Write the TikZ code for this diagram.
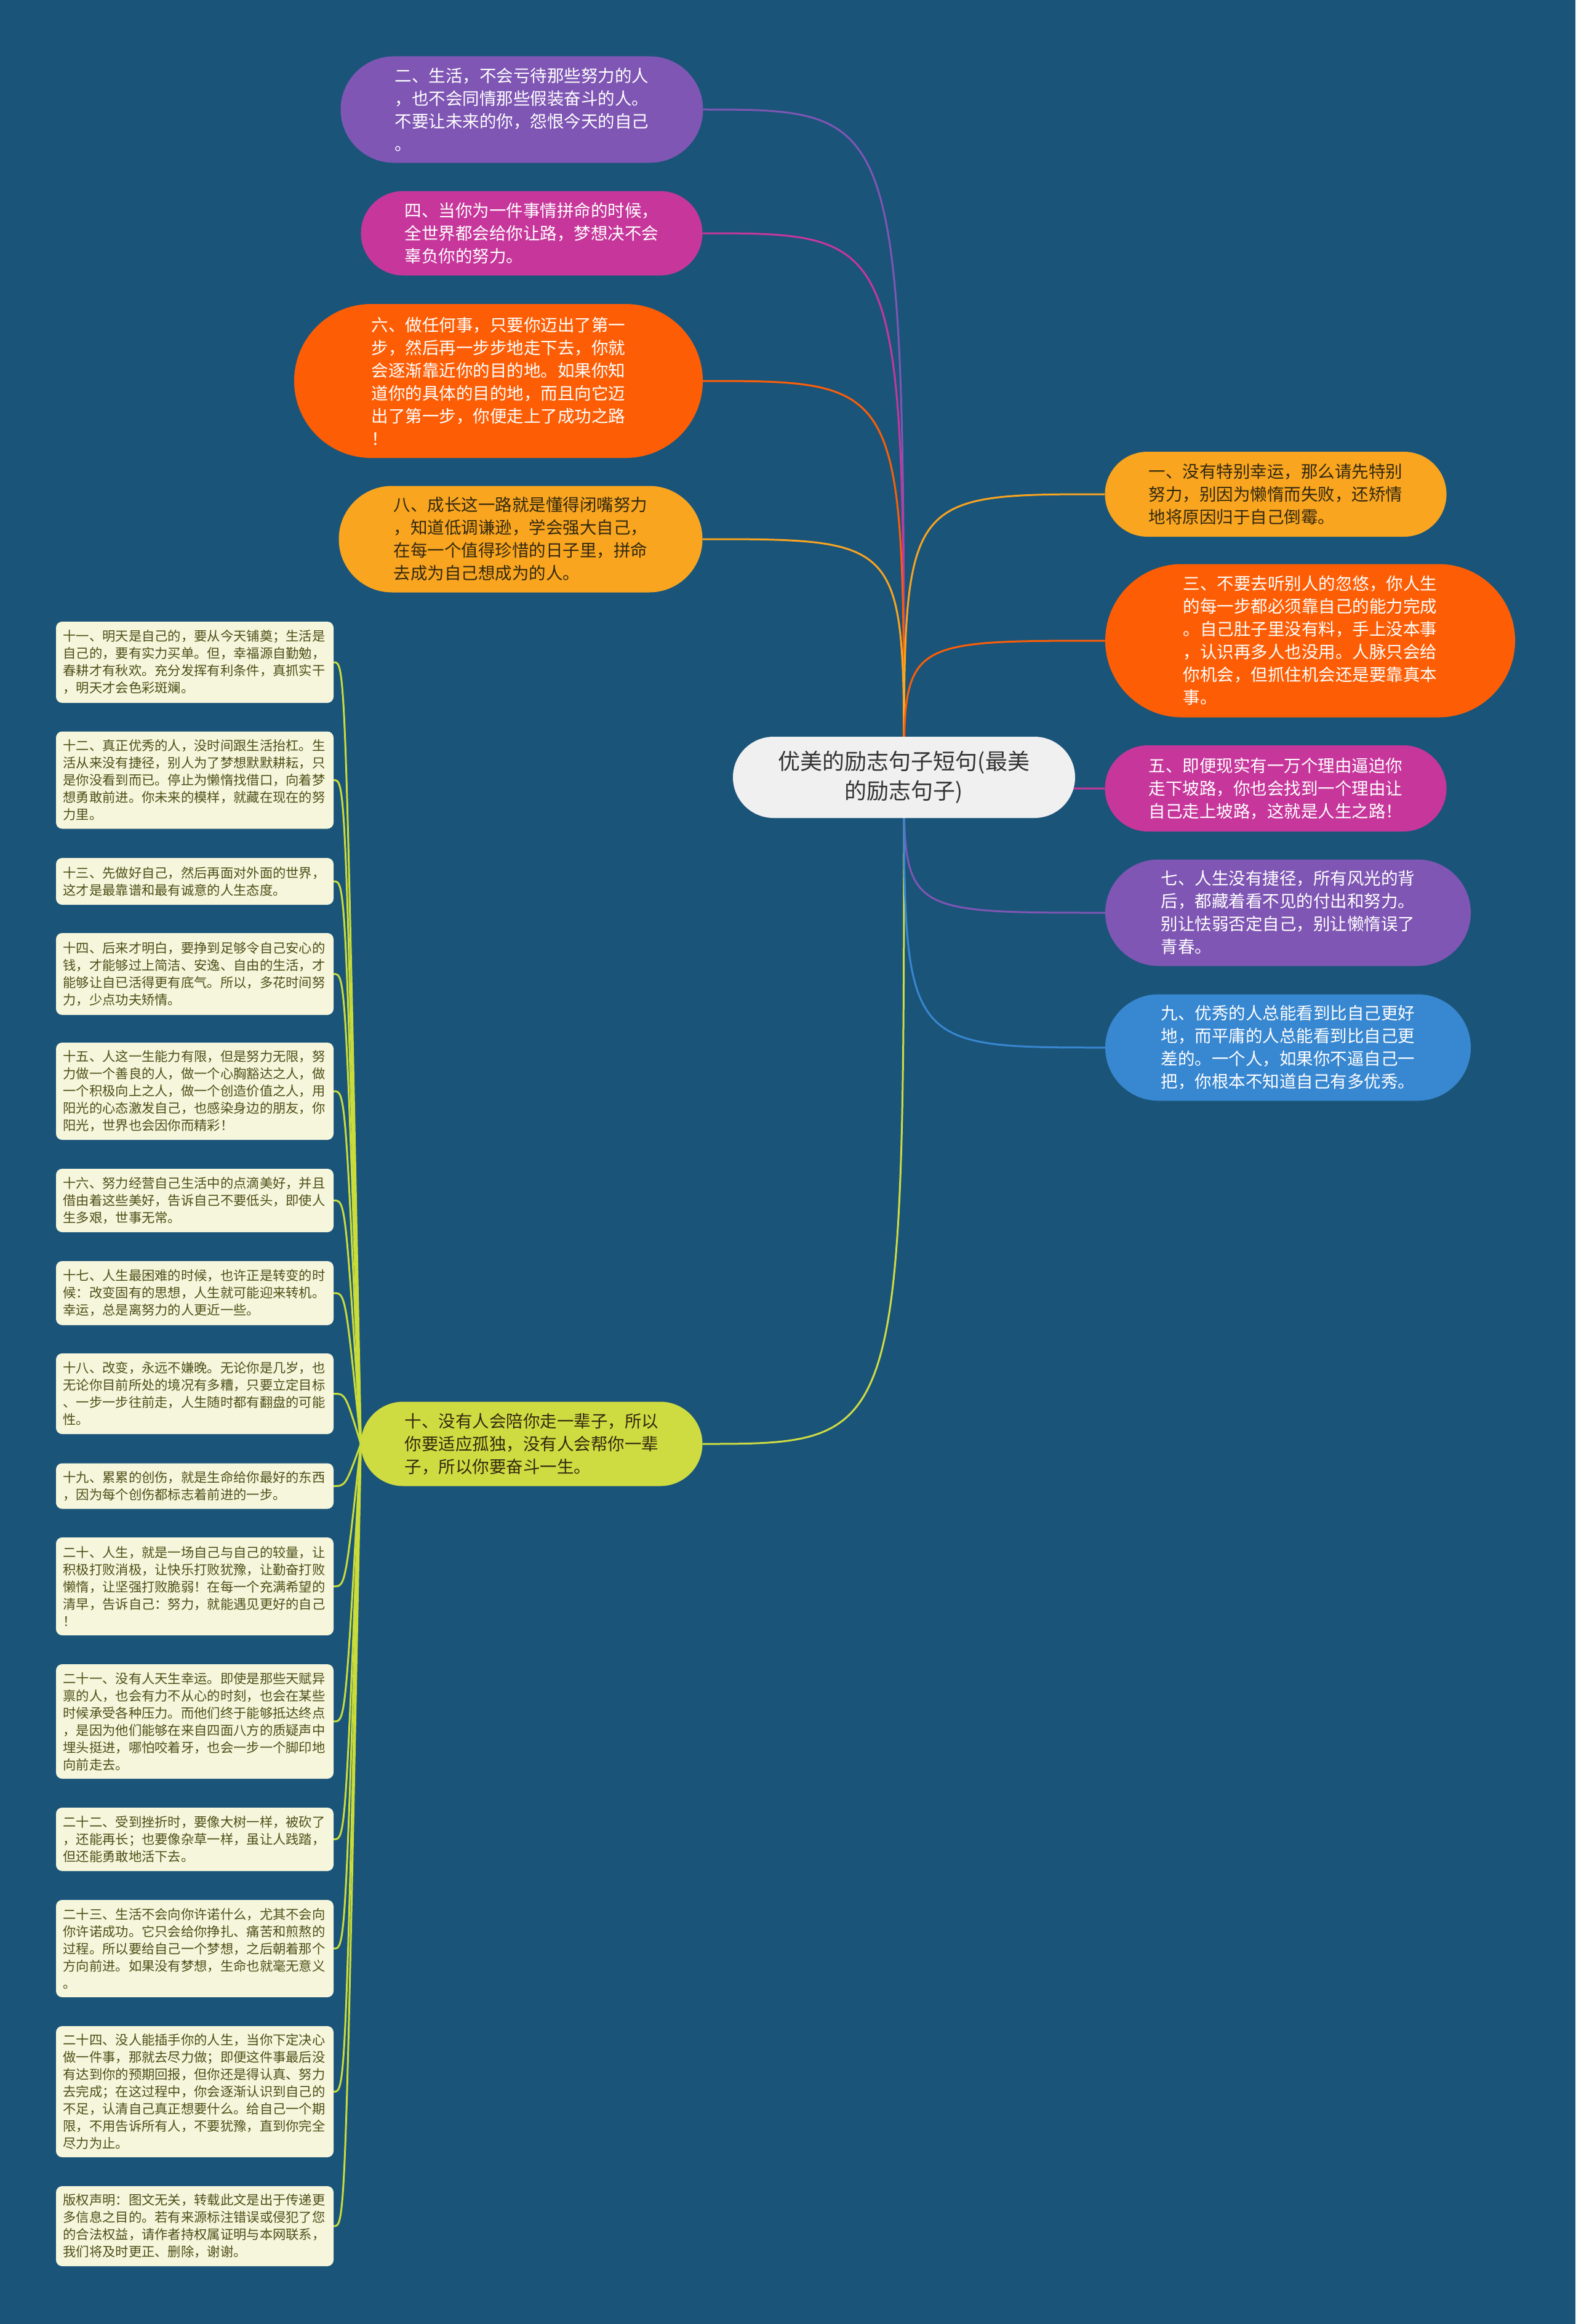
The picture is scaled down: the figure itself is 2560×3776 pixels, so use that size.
\documentclass[tikz,border=0pt]{standalone}
\usepackage{fontspec}
\setmainfont{Noto Sans CJK SC}
\usetikzlibrary{shapes.misc,backgrounds,calc}
\definecolor{bgblue}{HTML}{1B5479}
\definecolor{cpurple}{HTML}{7F56B4}
\definecolor{cmagenta}{HTML}{C7379B}
\definecolor{corange}{HTML}{FD5E05}
\definecolor{camber}{HTML}{F9A51F}
\definecolor{cblue}{HTML}{3887D1}
\definecolor{cyg}{HTML}{CFDC41}
\definecolor{leaffill}{HTML}{F6F6DC}
\definecolor{leaftext}{HTML}{4F4F18}
\definecolor{leafline}{HTML}{C9DC3A}
\definecolor{centerfill}{HTML}{F0F0F0}
\definecolor{darktext}{HTML}{33290F}
\tikzset{
  mainbox/.style={rounded rectangle, inner xsep=4pt, inner ysep=0pt, align=left,
    font=\fontsize{27.5pt}{37pt}\selectfont},
  leafbox/.style={rectangle, fill=leaffill, rounded corners=10pt, text width=428pt,
    inner xsep=11.5pt, inner ysep=0pt, align=left, text=leaftext,
    font=\fontsize{21.3pt}{28pt}\selectfont, minimum width=451pt},
  conn/.style={line width=3pt},
  leafconn/.style={line width=3pt, draw=leafline}
}
\begin{document}
\begin{tikzpicture}[x=1pt,y=-1pt]
% centre
\node[rounded rectangle, fill=centerfill, text=black!80, align=center, inner xsep=4pt,
  minimum width=564pt, minimum height=132pt, font=\fontsize{36pt}{48pt}\selectfont]
  (c) at (1469,1263) {优美的励志句子短句(最美\\的励志句子)};
% left main nodes
\node[mainbox, fill=cpurple, text=white, minimum width=597pt, minimum height=173pt]
  (n2) at (848,178) {二、生活，不会亏待那些努力的人\\，也不会同情那些假装奋斗的人。\\不要让未来的你，怨恨今天的自己\\。};
\node[mainbox, fill=cmagenta, text=white, minimum width=563pt, minimum height=137pt]
  (n4) at (864,379) {四、当你为一件事情拼命的时候，\\全世界都会给你让路，梦想决不会\\辜负你的努力。};
\node[mainbox, fill=corange, text=white, minimum width=672pt, minimum height=250pt]
  (n6) at (810,619) {六、做任何事，只要你迈出了第一\\步，然后再一步步地走下去，你就\\会逐渐靠近你的目的地。如果你知\\道你的具体的目的地，而且向它迈\\出了第一步，你便走上了成功之路\\！};
\node[mainbox, fill=camber, text=darktext, minimum width=599pt, minimum height=173pt]
  (n8) at (846,876) {八、成长这一路就是懂得闭嘴努力\\，知道低调谦逊，学会强大自己，\\在每一个值得珍惜的日子里，拼命\\去成为自己想成为的人。};
\node[mainbox, fill=cyg, text=darktext, minimum width=563pt, minimum height=137pt]
  (n10) at (864,2346) {十、没有人会陪你走一辈子，所以\\你要适应孤独，没有人会帮你一辈\\子，所以你要奋斗一生。};
% right main nodes
\node[mainbox, fill=camber, text=darktext, minimum width=563pt, minimum height=138pt]
  (n1) at (2073,803) {一、没有特别幸运，那么请先特别\\努力，别因为懒惰而失败，还矫情\\地将原因归于自己倒霉。};
\node[mainbox, fill=corange, text=white, minimum width=674pt, minimum height=249pt]
  (n3) at (2129,1041) {三、不要去听别人的忽悠，你人生\\的每一步都必须靠自己的能力完成\\。自己肚子里没有料，手上没本事\\，认识再多人也没用。人脉只会给\\你机会，但抓住机会还是要靠真本\\事。};
\node[mainbox, fill=cmagenta, text=white, minimum width=563pt, minimum height=140pt]
  (n5) at (2073,1281) {五、即便现实有一万个理由逼迫你\\走下坡路，你也会找到一个理由让\\自己走上坡路，这就是人生之路！};
\node[mainbox, fill=cpurple, text=white, minimum width=602pt, minimum height=173pt]
  (n7) at (2093,1483) {七、人生没有捷径，所有风光的背\\后，都藏着看不见的付出和努力。\\别让怯弱否定自己，别让懒惰误了\\青春。};
\node[mainbox, fill=cblue, text=white, minimum width=602pt, minimum height=173pt]
  (n9) at (2093,1702) {九、优秀的人总能看到比自己更好\\地，而平庸的人总能看到比自己更\\差的。一个人，如果你不逼自己一\\把，你根本不知道自己有多优秀。};
% leaves
\node[leafbox, minimum height=132pt] (l11) at (316.5,1076) {十一、明天是自己的，要从今天铺奠；生活是\\自己的，要有实力买单。但，幸福源自勤勉，\\春耕才有秋欢。充分发挥有利条件，真抓实干\\，明天才会色彩斑斓。};
\node[leafbox, minimum height=158pt] (l12) at (316.5,1267.5) {十二、真正优秀的人，没时间跟生活抬杠。生\\活从来没有捷径，别人为了梦想默默耕耘，只\\是你没看到而已。停止为懒惰找借口，向着梦\\想勇敢前进。你未来的模样，就藏在现在的努\\力里。};
\node[leafbox, minimum height=76pt] (l13) at (316.5,1432) {十三、先做好自己，然后再面对外面的世界，\\这才是最靠谱和最有诚意的人生态度。};
\node[leafbox, minimum height=133pt] (l14) at (316.5,1582.5) {十四、后来才明白，要挣到足够令自己安心的\\钱，才能够过上简洁、安逸、自由的生活，才\\能够让自已活得更有底气。所以，多花时间努\\力，少点功夫矫情。};
\node[leafbox, minimum height=158pt] (l15) at (316.5,1773) {十五、人这一生能力有限，但是努力无限，努\\力做一个善良的人，做一个心胸豁达之人，做\\一个积极向上之人，做一个创造价值之人，用\\阳光的心态激发自己，也感染身边的朋友，你\\阳光，世界也会因你而精彩！};
\node[leafbox, minimum height=103pt] (l16) at (316.5,1950.5) {十六、努力经营自己生活中的点滴美好，并且\\借由着这些美好，告诉自己不要低头，即使人\\生多艰，世事无常。};
\node[leafbox, minimum height=104pt] (l17) at (316.5,2101) {十七、人生最困难的时候，也许正是转变的时\\候：改变固有的思想，人生就可能迎来转机。\\幸运，总是离努力的人更近一些。};
\node[leafbox, minimum height=131pt] (l18) at (316.5,2264.5) {十八、改变，永远不嫌晚。无论你是几岁，也\\无论你目前所处的境况有多糟，只要立定目标\\、一步一步往前走，人生随时都有翻盘的可能\\性。};
\node[leafbox, minimum height=74pt] (l19) at (316.5,2414.5) {十九、累累的创伤，就是生命给你最好的东西\\，因为每个创伤都标志着前进的一步。};
\node[leafbox, minimum height=159pt] (l20) at (316.5,2577.5) {二十、人生，就是一场自己与自己的较量，让\\积极打败消极，让快乐打败犹豫，让勤奋打败\\懒惰，让坚强打败脆弱！在每一个充满希望的\\清早，告诉自己：努力，就能遇见更好的自己\\！};
\node[leafbox, minimum height=186pt] (l21) at (316.5,2797) {二十一、没有人天生幸运。即使是那些天赋异\\禀的人，也会有力不从心的时刻，也会在某些\\时候承受各种压力。而他们终于能够抵达终点\\，是因为他们能够在来自四面八方的质疑声中\\埋头挺进，哪怕咬着牙，也会一步一个脚印地\\向前走去。};
\node[leafbox, minimum height=103pt] (l22) at (316.5,2988.5) {二十二、受到挫折时，要像大树一样，被砍了\\，还能再长；也要像杂草一样，虽让人践踏，\\但还能勇敢地活下去。};
\node[leafbox, minimum height=158pt] (l23) at (316.5,3166) {二十三、生活不会向你许诺什么，尤其不会向\\你许诺成功。它只会给你挣扎、痛苦和煎熬的\\过程。所以要给自己一个梦想，之后朝着那个\\方向前进。如果没有梦想，生命也就毫无意义\\。};
\node[leafbox, minimum height=213pt] (l24) at (316.5,3398.5) {二十四、没人能插手你的人生，当你下定决心\\做一件事，那就去尽力做；即便这件事最后没\\有达到你的预期回报，但你还是得认真、努力\\去完成；在这过程中，你会逐渐认识到自己的\\不足，认清自己真正想要什么。给自己一个期\\限，不用告诉所有人，不要犹豫，直到你完全\\尽力为止。};
\node[leafbox, minimum height=130pt] (lcr) at (316.5,3617) {版权声明：图文无关，转载此文是出于传递更\\多信息之目的。若有来源标注错误或侵犯了您\\的合法权益，请作者持权属证明与本网联系，\\我们将及时更正、删除，谢谢。};
\begin{pgfonlayer}{background}
  \fill[bgblue] (0,0) rectangle (2560,3776);
  % centre to main nodes
  \draw[conn, cpurple] (c.center) .. controls (c.center |- n2.east) .. (n2.east);
  \draw[conn, cmagenta] (c.center) .. controls (c.center |- n4.east) .. (n4.east);
  \draw[conn, corange] (c.center) .. controls (c.center |- n6.east) .. (n6.east);
  \draw[conn, camber] (c.center) .. controls (c.center |- n8.east) .. (n8.east);
  \draw[conn, cyg] (c.center) .. controls (c.center |- n10.east) .. (n10.east);
  \draw[conn, camber] (c.center) .. controls (c.center |- n1.west) .. (n1.west);
  \draw[conn, corange] (c.center) .. controls (c.center |- n3.west) .. (n3.west);
  \draw[conn, cmagenta] (c.center) .. controls (c.center |- n5.west) .. (n5.west);
  \draw[conn, cpurple] (c.center) .. controls (c.center |- n7.west) .. (n7.west);
  \draw[conn, cblue] (c.center) .. controls (c.center |- n9.west) .. (n9.west);
  % ten to leaves
  \foreach \l in {l11,l12,l13,l14,l15,l16,l17,l18,l19,l20,l21,l22,l23,l24,lcr}{
    \draw[leafconn] (n10.west) .. controls ($(n10.west |- \l.east)+(-25,0)$) .. (\l.east);
  }
\end{pgfonlayer}
\end{tikzpicture}
\end{document}
